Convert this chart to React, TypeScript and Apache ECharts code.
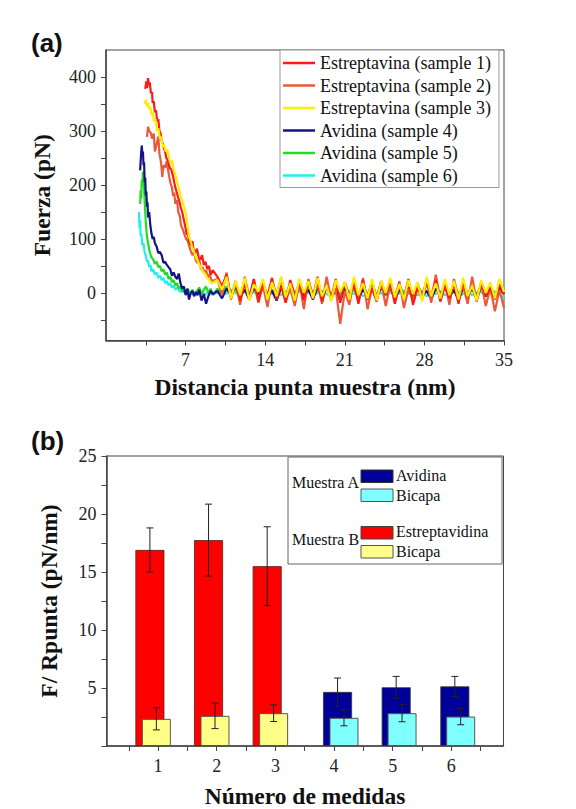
import React, { useEffect, useRef } from "react";
import * as echarts from "echarts";

// ---------- Panel (a): force curves ----------
const sampleNames = [
  "Estreptavina (sample 1)",
  "Estreptavina (sample 2)",
  "Estreptavina (sample 3)",
  "Avidina (sample 4)",
  "Avidina (sample 5)",
  "Avidina (sample 6)",
];

const s1Head: [number, number][] = [
  [3.45, 378], [3.55, 392], [3.62, 380], [3.7, 398], [3.78, 385], [3.85, 390], [3.95, 370], [4.05, 372],
  [4.1, 352], [4.2, 355], [4.3, 335], [4.4, 338], [4.5, 318], [4.6, 322], [4.7, 300], [4.8, 296],
  [4.9, 282], [5.0, 276], [5.1, 268], [5.2, 262], [5.3, 250], [5.45, 246], [5.6, 232], [5.75, 228],
  [5.9, 216], [6.0, 205], [6.1, 195], [6.2, 188], [6.35, 176], [6.45, 170], [6.55, 160], [6.7, 150],
  [6.8, 140], [6.9, 130], [7.0, 120], [7.1, 108], [7.2, 112], [7.3, 96], [7.45, 88], [7.6, 96],
  [7.7, 80], [7.85, 74], [8.0, 82], [8.15, 66], [8.3, 62], [8.45, 70], [8.6, 52], [8.75, 58],
  [8.9, 44], [9.05, 50], [9.2, 34], [9.4, 42],
];
const s2Head: [number, number][] = [
  [3.6, 289], [3.7, 308], [3.8, 300], [3.95, 296], [4.05, 286], [4.2, 295], [4.3, 262], [4.45, 275],
  [4.6, 290], [4.7, 258], [4.85, 240], [4.95, 215], [5.05, 236], [5.2, 232], [5.35, 245], [5.5, 222],
  [5.65, 205], [5.8, 195], [5.9, 180], [6.0, 186], [6.1, 165], [6.25, 172], [6.35, 150], [6.5, 142],
  [6.6, 125], [6.75, 118], [6.9, 108], [7.05, 100], [7.2, 96], [7.3, 88], [7.45, 78], [7.6, 70],
  [7.75, 76], [7.9, 60], [8.05, 55], [8.2, 62], [8.35, 44], [8.5, 48], [8.65, 36], [8.8, 42],
  [8.95, 28], [9.1, 35], [9.3, 22],
];
const s3Head: [number, number][] = [
  [3.4, 350], [3.5, 358], [3.6, 345], [3.7, 352], [3.8, 340], [3.9, 345], [4.0, 330], [4.1, 335],
  [4.2, 318], [4.35, 322], [4.5, 300], [4.6, 305], [4.75, 285], [4.85, 290], [5.0, 270], [5.1, 275],
  [5.25, 262], [5.4, 266], [5.5, 255], [5.65, 240], [5.8, 245], [5.95, 228], [6.1, 220], [6.25, 205],
  [6.4, 195], [6.55, 180], [6.7, 170], [6.85, 160], [7.0, 150], [7.1, 135], [7.2, 120], [7.3, 105],
  [7.45, 95], [7.6, 84], [7.75, 76], [7.9, 66], [8.05, 60], [8.2, 52], [8.35, 48], [8.5, 40],
  [8.7, 36], [8.9, 28], [9.1, 24], [9.3, 18],
];
const s4Head: [number, number][] = [
  [3.0, 227], [3.05, 245], [3.1, 262], [3.15, 273], [3.2, 255], [3.25, 262], [3.3, 236], [3.35, 242],
  [3.4, 205], [3.45, 214], [3.5, 180], [3.55, 188], [3.6, 160], [3.65, 168], [3.7, 140], [3.8, 150],
  [3.9, 125], [4.0, 110], [4.1, 100], [4.2, 104], [4.3, 92], [4.45, 86], [4.6, 74], [4.75, 76],
  [4.9, 70], [5.05, 56], [5.2, 58], [5.35, 52], [5.5, 48], [5.65, 44], [5.8, 32], [5.95, 38],
  [6.1, 30], [6.25, 26], [6.4, 36], [6.55, 18], [6.7, 8], [6.85, 12], [7.0, -4], [7.15, 8],
  [7.3, -12], [7.45, 0], [7.6, 4], [7.75, -6], [7.9, 2], [8.05, -4], [8.2, 6], [8.4, -14],
  [8.6, -2], [8.8, -20], [9.0, -6], [9.2, 4], [9.4, -2],
];
const s5Head: [number, number][] = [
  [3.0, 165], [3.05, 190], [3.1, 175], [3.15, 210], [3.2, 200], [3.25, 225], [3.3, 215], [3.35, 195],
  [3.4, 170], [3.45, 150], [3.5, 130], [3.55, 118], [3.6, 105], [3.7, 92], [3.8, 80], [3.9, 72],
  [4.0, 66], [4.15, 62], [4.3, 54], [4.45, 58], [4.6, 48], [4.75, 50], [4.9, 40], [5.05, 44],
  [5.2, 34], [5.35, 38], [5.5, 26], [5.65, 30], [5.8, 20], [5.95, 24], [6.1, 14], [6.25, 18],
  [6.4, 8], [6.55, 12], [6.7, 2], [6.85, 6], [7.0, 0], [7.2, 8], [7.4, -2], [7.6, 6],
  [7.8, -4], [8.0, 4], [8.2, 10], [8.4, -2], [8.6, 6], [8.8, 12], [9.0, 0], [9.2, 8], [9.4, -4],
];
const s6Head: [number, number][] = [
  [2.9, 150], [2.95, 120], [3.0, 135], [3.05, 105], [3.1, 110], [3.2, 88], [3.3, 92], [3.4, 75],
  [3.5, 70], [3.6, 58], [3.7, 60], [3.8, 48], [3.9, 52], [4.0, 40], [4.15, 44], [4.3, 34],
  [4.45, 38], [4.6, 28], [4.75, 32], [4.9, 24], [5.05, 28], [5.2, 18], [5.35, 22], [5.5, 14],
  [5.65, 18], [5.8, 10], [5.95, 14], [6.1, 6], [6.3, 10], [6.5, 2], [6.7, 6], [6.9, 0],
  [7.1, 4], [7.3, -2], [7.5, 2], [7.7, -4], [7.9, 0], [8.1, 4], [8.3, -2], [8.5, 2],
  [8.7, -4], [8.9, 0], [9.1, 2], [9.3, -2],
];

const tailX = [
  9.8, 10.2, 10.6, 11.0, 11.4, 11.8, 12.2, 12.6, 13.0, 13.4, 13.8, 14.2, 14.6, 15.0, 15.4, 15.8,
  16.2, 16.6, 17.0, 17.4, 17.8, 18.2, 18.6, 19.0, 19.4, 19.8, 20.2, 20.6, 21.0, 21.4, 21.8, 22.2,
  22.6, 23.0, 23.4, 23.8, 24.2, 24.6, 25.0, 25.4, 25.8, 26.2, 26.6, 27.0, 27.4, 27.8, 28.2, 28.6,
  29.0, 29.4, 29.8, 30.2, 30.6, 31.0, 31.4, 31.8, 32.2, 32.6, 33.0, 33.4, 33.8, 34.2, 34.6, 35.0,
];
const s1Tail = [
  30, 12, 34, -8, 22, -14, 18, -10, 26, -16, 20, -6, 28, -12, 14, -18,
  24, -4, 18, -14, 22, -8, 30, -16, 12, -10, 26, -18, 20, -6, 16, -20,
  24, -12, 8, -16, 22, -4, 18, -20, 14, -8, 26, -22, 10, -12, 20, -6,
  24, -16, 12, -10, 18, -20, 22, -8, 14, -14, 20, -6, 10, -12, 16, -2,
];
const s2Tail = [
  26, -4, 38, -12, 20, -22, 30, -8, 24, -18, 14, -26, 22, -4, 28, -16,
  10, -24, 20, -30, 26, -8, 16, -20, 30, -12, 8, -57, 4, -22, 24, -14,
  28, -30, 12, -6, 20, -24, 16, -10, 22, -28, 8, -14, 18, -6, 24, -18,
  34, -12, 20, -22, 26, -8, 14, -20, 30, -16, 18, -24, 10, -34, 6, -28,
];
const s3Tail = [
  24, 6, 30, -10, 22, -4, 28, -14, 16, 2, 26, -12, 20, -6, 30, -8,
  18, -14, 26, 0, 22, -10, 28, -6, 14, -16, 24, 2, 20, -12, 30, -4,
  18, -10, 26, -14, 22, 0, 28, -8, 16, -12, 24, -2, 20, -16, 30, -6,
  18, -10, 26, -4, 22, -12, 28, -6, 14, -14, 24, 0, 20, -10, 26, 2,
];
const s4Tail = [
  4, -10, 8, -4, 12, -8, 6, -12, 10, -2, 14, -6, 4, -14, 10, -4,
  8, -10, 16, -6, 6, -12, 10, -2, 12, -8, 4, -14, 8, -4, 14, -10,
  6, -6, 20, -8, 10, -2, 12, -12, 6, -4, 10, -10, 14, -6, 4, -12,
  8, -2, 12, -8, 6, -14, 10, -4, 8, -10, 12, -6, 4, -8, 10, -2,
];
const s5Tail = [
  8, -2, 12, 2, 6, -6, 14, 0, 8, -4, 12, -2, 6, -8, 10, 0,
  14, -4, 8, -6, 12, 2, 6, -4, 10, -2, 8, -6, 14, 0, 6, -4,
  12, -2, 8, -8, 10, 2, 6, -4, 14, -2, 8, -6, 12, 0, 16, -4,
  8, -2, 12, -6, 6, 0, 10, -4, 8, -2, 14, -6, 10, 0, 6, -2,
];
const s6Tail = [
  0, 4, -2, 6, 0, -4, 4, -2, 2, -4, 6, 0, -2, 4, -4, 2,
  0, -6, 4, -2, 2, -4, 0, 4, -2, -6, 2, 0, -4, 4, -2, 2,
  -6, 0, 4, -2, 0, -4, 2, -6, 0, 4, -2, 2, -4, 0, -6, 2,
  -2, 4, -4, 0, 2, -6, -2, 4, -4, 0, 2, -6, 0, -4, -2, -10,
];

const forceTicks = [-50, 0, 50, 100, 150, 200, 250, 300, 350, 400];
const forceLabels = [0, 100, 200, 300, 400];

// ---------- Panel (b): bars ----------
const medidaLabels = [1, 2, 3, 4, 5, 6];
const medidaTicks = [0.5, 1, 1.5, 2, 2.5, 3, 3.5, 4, 4.5, 5, 5.5, 6, 6.5];

const estreptX = [0.86, 1.86, 2.86];
const estreptVal = [16.9, 17.75, 15.5];
const estreptErr = [1.9, 3.1, 3.4];

const bicapaBX = [0.97, 1.97, 2.97];
const bicapaBVal = [2.34, 2.6, 2.83];
const bicapaBErr = [0.95, 1.1, 0.72];

const avidinaX = [4.06, 5.06, 6.06];
const avidinaVal = [4.66, 5.06, 5.14];
const avidinaErr = [1.2, 0.94, 0.86];

const bicapaAX = [4.17, 5.16, 6.16];
const bicapaAVal = [2.43, 2.83, 2.54];
const bicapaAErr = [0.69, 0.74, 0.71];

const SERIF = "Liberation Serif";
const SANS = "Liberation Sans";
const lineColors = ["#ff1a1a", "#ea5a3a", "#ffee00", "#141488", "#22dd22", "#22eeee"];
const AXIS = "#444";

function curve(head: [number, number][], tail: number[]): [number, number][] {
  const n = Math.min(tail.length, tailX.length);
  const out: [number, number][] = head.slice();
  for (let i = 0; i < n; i++) out.push([tailX[i], tail[i]]);
  return out;
}

function zip2(xs: number[], ys: number[]) {
  return xs.map((x, i) => [x, ys[i]]);
}
function zip3(xs: number[], ys: number[], es: number[]) {
  return xs.map((x, i) => [x, ys[i], es[i]]);
}

function legText(x: number, y: number, text: string) {
  return {
    type: "text",
    x,
    y,
    style: { text, fontFamily: SERIF, fontSize: 16, fill: "#111", verticalAlign: "middle" },
  };
}

export default function App() {
  const ref = useRef<HTMLDivElement>(null);

  useEffect(() => {
    if (!ref.current) return;
    const chart = echarts.init(ref.current, undefined, { renderer: "svg" });

    const curves = [
      curve(s1Head, s1Tail),
      curve(s2Head, s2Tail),
      curve(s3Head, s3Tail),
      curve(s4Head, s4Tail),
      curve(s5Head, s5Tail),
      curve(s6Head, s6Tail),
    ];
    const drawOrder = [5, 4, 3, 1, 0, 2];

    const lineSeries = drawOrder.map((i) => ({
      type: "line",
      name: sampleNames[i],
      xAxisIndex: 0,
      yAxisIndex: 0,
      data: curves[i],
      showSymbol: false,
      symbol: "none",
      lineStyle: { color: lineColors[i], width: 2.2 },
      itemStyle: { color: lineColors[i] },
      z: 2,
    }));

    const barBase = {
      type: "bar",
      xAxisIndex: 1,
      yAxisIndex: 1,
      barWidth: 29,
      barGap: "-100%",
    };

    const errData = [
      ...zip3(estreptX, estreptVal, estreptErr),
      ...zip3(bicapaBX, bicapaBVal, bicapaBErr),
      ...zip3(avidinaX, avidinaVal, avidinaErr),
      ...zip3(bicapaAX, bicapaAVal, bicapaAErr),
    ];

    const tickStyle = { show: true, inside: false, length: 5, lineStyle: { color: AXIS, width: 1 } };
    const labelStyle = { fontFamily: SERIF, fontSize: 18, color: "#222" };
    const nameStyle = { fontFamily: SERIF, fontSize: 23.5, fontWeight: "bold", color: "#111" };
    const axisLine = { show: true, onZero: false, lineStyle: { color: AXIS, width: 1.5 } };

    chart.setOption({
      animation: false,
      backgroundColor: "#ffffff",
      grid: [
        { left: 106, top: 50, width: 398, height: 290.5, show: true, borderColor: AXIS, borderWidth: 1, backgroundColor: "transparent" },
        { left: 106.5, top: 456, width: 397, height: 291.6, show: true, borderColor: AXIS, borderWidth: 1, backgroundColor: "transparent" },
      ],
      legend: {
        show: true,
        orient: "vertical",
        left: 280,
        top: 50,
        data: sampleNames,
        icon: "rect",
        itemWidth: 32,
        itemHeight: 2.5,
        itemGap: 4.5,
        padding: [4, 8, 3, 3],
        borderColor: "#999",
        borderWidth: 1,
        backgroundColor: "#fff",
        textStyle: { fontFamily: SERIF, fontSize: 18, color: "#111" },
        selectedMode: false,
      },
      xAxis: [
        {
          type: "value",
          gridIndex: 0,
          min: 0,
          max: 35,
          interval: 3.5,
          name: "Distancia punta muestra (nm)",
          nameLocation: "middle",
          nameGap: 34,
          nameTextStyle: nameStyle,
          axisLine,
          axisTick: tickStyle,
          axisLabel: {
            ...labelStyle,
            margin: 10,
            showMinLabel: false,
            formatter: (v: number) => (v > 0 && Math.abs(v % 7) < 1e-6 ? String(v) : ""),
          },
          splitLine: { show: false },
        },
        {
          type: "value",
          gridIndex: 1,
          min: 0.12,
          max: 6.89,
          name: "Número de medidas",
          nameLocation: "middle",
          nameGap: 38,
          nameTextStyle: nameStyle,
          axisLine,
          axisTick: { ...tickStyle, customValues: medidaTicks },
          axisLabel: { ...labelStyle, margin: 11, customValues: medidaLabels, formatter: (v: number) => String(v) },
          splitLine: { show: false },
        },
      ],
      yAxis: [
        {
          type: "value",
          gridIndex: 0,
          min: -88,
          max: 450,
          name: "Fuerza (pN)",
          nameLocation: "middle",
          nameGap: 52,
          nameTextStyle: nameStyle,
          axisLine,
          axisTick: { ...tickStyle, customValues: forceTicks },
          axisLabel: { ...labelStyle, margin: 10, customValues: forceLabels, formatter: (v: number) => String(v) },
          splitLine: { show: false },
        },
        {
          type: "value",
          gridIndex: 1,
          min: 0,
          max: 25,
          interval: 2.5,
          name: "F/ Rpunta (pN/nm)",
          nameLocation: "middle",
          nameGap: 46,
          nameTextStyle: nameStyle,
          axisLine,
          axisTick: tickStyle,
          axisLabel: {
            ...labelStyle,
            margin: 10,
            formatter: (v: number) => (v > 0 && Math.abs(v % 5) < 1e-6 ? String(v) : ""),
          },
          splitLine: { show: false },
        },
      ],
      series: [
        ...lineSeries,
        { ...barBase, name: "Estreptavidina", data: zip2(estreptX, estreptVal), itemStyle: { color: "#ff0000", borderColor: "#552222", borderWidth: 0.8 } },
        { ...barBase, name: "Bicapa B", data: zip2(bicapaBX, bicapaBVal), itemStyle: { color: "#ffff88", borderColor: "#555555", borderWidth: 1 } },
        { ...barBase, name: "Avidina", data: zip2(avidinaX, avidinaVal), itemStyle: { color: "#000099", borderColor: "#333333", borderWidth: 0.8 } },
        { ...barBase, name: "Bicapa A", data: zip2(bicapaAX, bicapaAVal), itemStyle: { color: "#80ffff", borderColor: "#555555", borderWidth: 1 } },
        {
          type: "custom",
          name: "error",
          xAxisIndex: 1,
          yAxisIndex: 1,
          z: 10,
          data: errData,
          encode: { x: 0, y: 1 },
          renderItem: (_params: any, api: any) => {
            const x = api.value(0);
            const y = api.value(1);
            const e = api.value(2);
            const top = api.coord([x, y + e]);
            const bot = api.coord([x, y - e]);
            const cap = 3.5;
            const st = { stroke: "#222", lineWidth: 1 };
            return {
              type: "group",
              children: [
                { type: "line", shape: { x1: top[0], y1: top[1], x2: bot[0], y2: bot[1] }, style: st },
                { type: "line", shape: { x1: top[0] - cap, y1: top[1], x2: top[0] + cap, y2: top[1] }, style: st },
                { type: "line", shape: { x1: bot[0] - cap, y1: bot[1], x2: bot[0] + cap, y2: bot[1] }, style: st },
              ],
            };
          },
        },
      ],
      graphic: [
        { type: "text", left: 31, top: 30, style: { text: "(a)", fontFamily: SANS, fontWeight: "bold", fontSize: 26, fill: "#111" } },
        { type: "text", left: 31, top: 428, style: { text: "(b)", fontFamily: SANS, fontWeight: "bold", fontSize: 26, fill: "#111" } },
        {
          type: "group",
          left: 287.5,
          top: 456.5,
          z: 20,
          children: [
            { type: "rect", shape: { x: 0, y: 0, width: 214, height: 107 }, style: { fill: "#fff", stroke: "#666", lineWidth: 1 } },
            legText(4, 25, "Muestra A"),
            { type: "rect", shape: { x: 73, y: 13, width: 32, height: 12.5 }, style: { fill: "#000099", stroke: "#333", lineWidth: 1 } },
            { type: "rect", shape: { x: 73, y: 32, width: 32, height: 12.5 }, style: { fill: "#80ffff", stroke: "#555", lineWidth: 1 } },
            legText(108, 18, "Avidina"),
            legText(108, 38, "Bicapa"),
            legText(4, 82, "Muestra B"),
            { type: "rect", shape: { x: 73, y: 69.5, width: 32, height: 12.5 }, style: { fill: "#ff0000", stroke: "#444", lineWidth: 1 } },
            { type: "rect", shape: { x: 73, y: 88.5, width: 32, height: 12.5 }, style: { fill: "#ffff88", stroke: "#555", lineWidth: 1 } },
            legText(108, 74, "Estreptavidina"),
            legText(108, 94, "Bicapa"),
          ],
        },
      ],
    });

    return () => chart.dispose();
  }, []);

  return (
    <div
      ref={ref}
      style={{ position: "absolute", left: 0, top: 0, width: 576, height: 809, background: "#fff" }}
    />
  );
}
